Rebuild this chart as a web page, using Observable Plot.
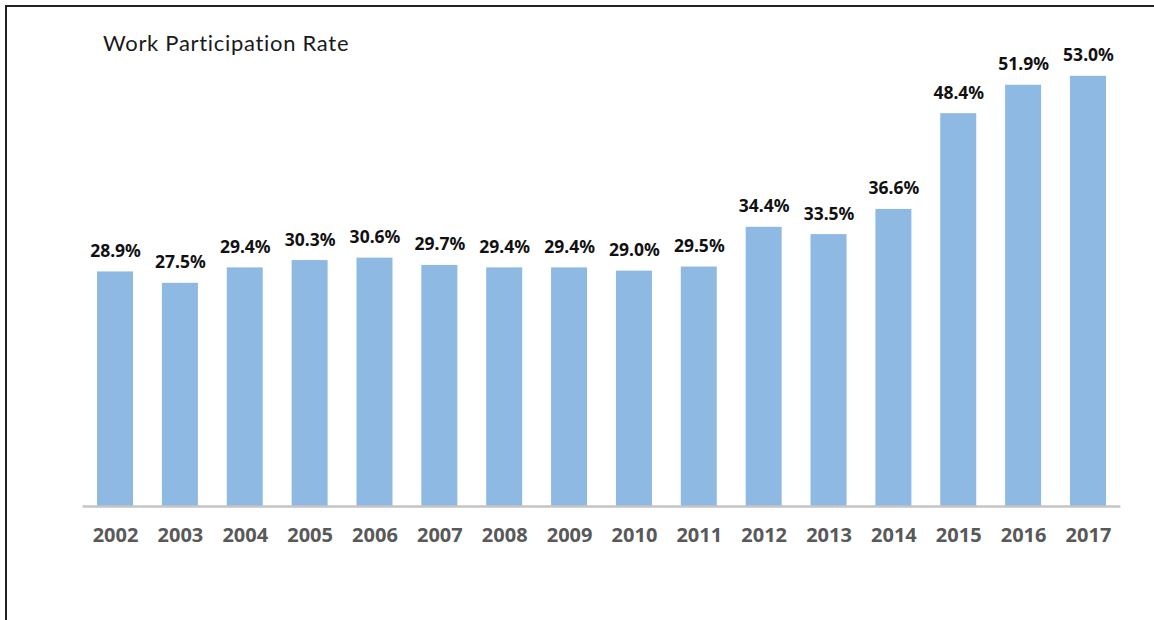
<!DOCTYPE html>
<html>
<head>
<meta charset="utf-8">
<script src="https://cdn.jsdelivr.net/npm/d3@7"></script>
<script src="https://cdn.jsdelivr.net/npm/@observablehq/plot@0.6"></script>
<style>
  html, body { margin: 0; padding: 0; background: #fff; }
  #wrap { position: relative; width: 1154px; height: 620px; overflow: hidden; }
  #frame { position: absolute; left: 5px; top: 5px; right: -10px; bottom: -10px;
           border-left: 2px solid #222; border-top: 2px solid #222; }
  #title { position: absolute; left: 103px; top: 29px; font-family: "Lato", sans-serif;
           font-size: 22px; color: #1a1a1a; letter-spacing: 0.7px; }
  #chart { position: absolute; left: 0; top: 0; }
</style>
</head>
<body>
<div id="wrap">
  <div id="frame"></div>
  <div id="chart"></div>
  <div id="title">Work Participation Rate</div>
</div>
<script>
const years = ["2002","2003","2004","2005","2006","2007","2008","2009","2010","2011","2012","2013","2014","2015","2016","2017"];
const rates = [28.9, 27.5, 29.4, 30.3, 30.6, 29.7, 29.4, 29.4, 29.0, 29.5, 34.4, 33.5, 36.6, 48.4, 51.9, 53.0];

const data = years.map((y, i) => ({year: y, rate: rates[i]}));

const chart = Plot.plot({
  width: 1154,
  height: 620,
  marginLeft: 82.6,
  marginRight: 33.6,
  marginTop: 19,
  marginBottom: 114,
  style: {background: "transparent", fontFamily: "'Noto Sans', sans-serif"},
  x: {domain: years, paddingInner: 0.445, paddingOuter: 0.2225, round: false, label: null},
  y: {domain: [0, 60], axis: null},
  marks: [
    Plot.barY(data, {x: "year", y: "rate", fill: "#8db9e2"}),
    Plot.ruleY([0], {stroke: "#c4c4c4", strokeWidth: 2.5}),
    Plot.text(data, {x: "year", y: "rate", text: d => d.rate.toFixed(1) + "%",
      dy: -15, lineAnchor: "bottom", fontSize: 17.5, fontWeight: "bold", fill: "#111"}),
    Plot.axisX({tickSize: 0, tickPadding: 21, fontSize: 20, fontWeight: "bold", fill: "#595959", label: null})
  ]
});
document.getElementById("chart").appendChild(chart);
</script>
</body>
</html>
